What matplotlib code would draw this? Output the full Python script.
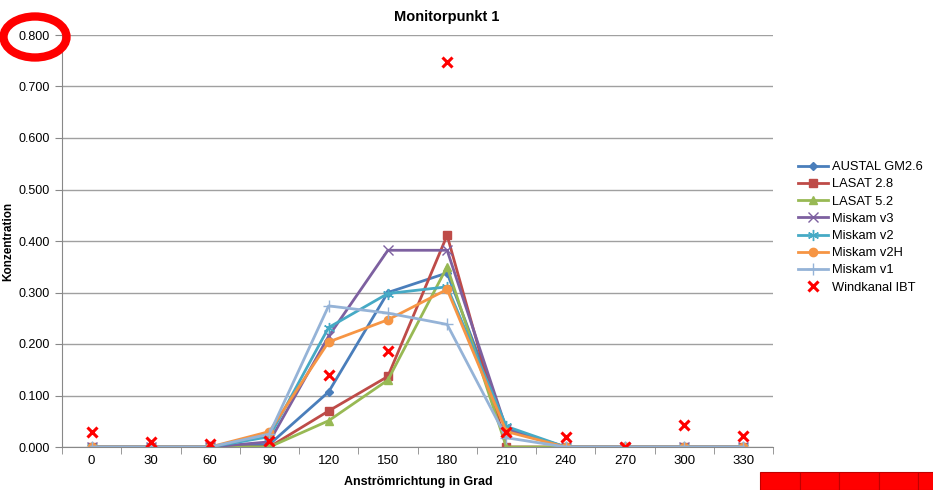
import matplotlib
matplotlib.use("Agg")
import matplotlib.pyplot as plt
from matplotlib.patches import Ellipse, Rectangle
import numpy as np

## Data
richtung = [0, 30, 60, 90, 120, 150, 180, 210, 240, 270, 300, 330]

austal_gm26 = [0, 0, 0, 0.005, 0.107, 0.300, 0.338, 0.035, 0, 0, 0, 0]
lasat_28 = [0, 0, 0, 0, 0.070, 0.137, 0.411, 0, 0, 0, 0, 0]
lasat_52 = [0, 0, 0, 0, 0.051, 0.130, 0.350, 0, 0, 0, 0, 0]
miskam_v3 = [0, 0, 0, 0.010, 0.215, 0.382, 0.382, 0.035, 0, 0, 0, 0]
miskam_v2 = [0, 0, 0, 0.020, 0.232, 0.298, 0.311, 0.040, 0, 0, 0, 0]
miskam_v2h = [0, 0, 0, 0.030, 0.204, 0.247, 0.306, 0.030, 0, 0, 0, 0]
miskam_v1 = [0, 0, 0, 0.025, 0.274, 0.260, 0.238, 0.018, 0, 0, 0, 0]
windkanal = [0.030, 0.010, 0.005, 0.012, 0.140, 0.187, 0.748, 0.030, 0.020, 0, 0.043, 0.021]

plt.rcParams['font.family'] = ['Liberation Sans', 'DejaVu Sans']

fig = plt.figure(figsize=(9.33, 4.9), dpi=100)
ax = fig.add_axes([62/933, 1-447/490, 711/933, 412/490])

x = np.arange(len(richtung))

series = [
    ("AUSTAL GM2.6", austal_gm26, "#4A7EBB", "D", 4),
    ("LASAT 2.8", lasat_28, "#BE4B48", "s", 6),
    ("LASAT 5.2", lasat_52, "#98B954", "^", 6),
    ("Miskam v3", miskam_v3, "#7D60A0", "x", 7),
    ("Miskam v2", miskam_v2, "#46AAC5", (6, 2, 0), 8),
    ("Miskam v2H", miskam_v2h, "#F69544", "o", 6),
    ("Miskam v1", miskam_v1, "#95B3D7", "+", 8),
]
for name, vals, col, mk, ms in series:
    ax.plot(x, vals, color=col, lw=2, marker=mk, markersize=ms,
            markeredgecolor=col, markerfacecolor=col, label=name)
ax.plot(x, windkanal, ls="none", marker="x", color="#FF0000", markersize=7,
        markeredgewidth=2.2, label="Windkanal IBT")

ax.set_xlim(-0.5, len(richtung) - 0.5)
ax.set_ylim(0, 0.8)
ax.set_yticks(np.arange(0, 0.81, 0.1))
ax.set_yticklabels(["%.3f" % v for v in np.arange(0, 0.81, 0.1)], fontsize=9)
ax.set_xticks(x)
ax.set_xticklabels([str(r) for r in richtung], fontsize=9.5)
ax.set_xticks(np.arange(-0.5, len(richtung)), minor=True)
ax.tick_params(axis='x', which='major', length=0, pad=6)
ax.tick_params(axis='x', which='minor', length=5, color='#888888')
ax.tick_params(axis='y', length=5, color='#888888', pad=4)
ax.grid(axis='y', color='#A0A0A0', lw=1)
ax.set_axisbelow(True)
for s in ['top', 'right']:
    ax.spines[s].set_visible(False)
for s in ['left', 'bottom']:
    ax.spines[s].set_color('#888888')

fig.text(447/933, 1-17/490, "Monitorpunkt 1", ha='center', va='center',
         fontsize=10.5, fontweight='bold')
fig.text(8/933, 1-241/490, "Konzentration", ha='center', va='center',
         rotation=90, fontsize=8.5, fontweight='bold')
fig.text(418/933, 1-482/490, "Anströmrichtung in Grad", ha='center', va='center',
         fontsize=9, fontweight='bold')

fig.legend(loc='upper left', bbox_to_anchor=(793/933, 1-156/490), frameon=False,
           fontsize=9.3, handlelength=2.3, handletextpad=0.3, labelspacing=0.4,
           borderaxespad=0)

## red markings on the picture
fig.add_artist(Ellipse((35/933, 1-37/490), 63/933, 41/490, transform=fig.transFigure,
                       fill=False, ec='#FF0000', lw=6))
for i in range(5):
    fig.add_artist(Rectangle(((760 + i*39.5)/933, 0), 39.5/933, 18/490,
                             transform=fig.transFigure, fc='#FF0000',
                             ec='#C00000', lw=0.8))

fig.savefig("out.png", dpi=100)
